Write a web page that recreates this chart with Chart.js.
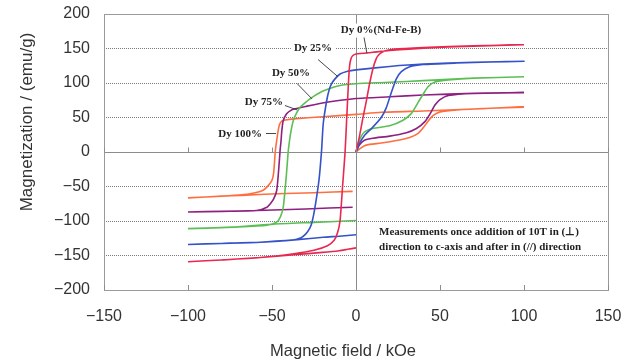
<!DOCTYPE html>
<html><head><meta charset="utf-8">
<script src="https://cdn.jsdelivr.net/npm/chart.js@4/dist/chart.umd.min.js"></script>
<style>html,body{margin:0;padding:0;background:#fff}#wrap{width:633px;height:360px;position:relative}</style>
</head><body><div id="wrap"><canvas id="c"></canvas></div>
<script>
// ---- data (H in kOe, M in emu/g) ----
const seriesNames = ['Dy 0%(Nd-Fe-B)', 'Dy 25%', 'Dy 50%', 'Dy 75%', 'Dy 100%'];
const dy0 = [[0,0],[2,22],[4,48],[6,72],[8,98],[10,120],[12,135],[14,142],[17,146.5],[22,149],[40,151.5],[70,154],[100,155.5],
  [70,153.5],[40,150.5],[20,147],[10,144.5],[0,142],[-2,139.5],[-3,135],[-3.8,125],[-4.5,100],[-5.5,50],[-6.5,0],[-8,-50],[-9.5,-100],[-11,-117],[-13,-128],[-17,-136],[-25,-142.5],[-37,-147.5],[-57,-153],[-80,-156.5],[-100,-159],
  [-80,-156.5],[-57,-153],[-37,-149],[-20,-145.5],[-10,-143],[-5,-141],[0,-139]];
const dy25 = [[0,0],[2,12],[5,24],[10,36],[15,50],[18,64],[21,86],[24,106],[27,116.5],[32,123.5],[40,126.8],[60,129],[80,130.5],[100,131.5],
  [70,130],[40,127.5],[20,124],[0,119],[-5,117],[-9.5,113],[-12.5,106],[-14.5,99],[-16,90],[-17.4,75],[-19.5,41],[-20.5,2],[-22,-40],[-24.4,-80],[-26,-100],[-27.4,-110],[-30,-119],[-33,-124.5],[-39,-128],[-57,-130.7],[-80,-132.5],[-100,-134],
  [-80,-132.5],[-57,-130.7],[-35,-127],[-19.5,-123.5],[-10,-122],[0,-120]];
const dy50 = [[0,0],[2,17],[5,29],[10,34],[20,38],[28,46],[33,56],[37,72],[40,84],[43,95],[47,101.5],[55,104.5],[70,107],[100,109],
  [70,107],[40,103.5],[20,101],[0,99],[-8,97],[-13.5,94],[-20,88],[-25,81],[-27.4,77],[-30,72],[-33.3,65],[-35.5,56],[-37.3,45.7],[-38.5,33],[-39.3,21],[-40.3,2],[-41.5,-35],[-43.3,-80],[-45,-94],[-47.2,-101.7],[-53,-106],[-70,-108.5],[-100,-111],
  [-70,-108.5],[-49,-104.5],[-25,-102],[0,-99.3]];
const dy75 = [[0,0],[2,10],[5,17],[10,20],[20,23],[30,28],[36,34],[41,44],[44,55],[47,68],[50,76],[55,82],[70,85],[100,86],
  [70,85],[40,82.5],[20,80],[0,77.5],[-17.5,72],[-30,66],[-36.3,62.6],[-39,60],[-41.3,55.4],[-43.3,45.7],[-44.2,30],[-44.6,16.7],[-45.2,2],[-46,-25],[-47.2,-55.8],[-49,-68],[-51,-75],[-53,-80],[-59,-84.8],[-80,-86],[-100,-87],
  [-80,-86],[-59,-84.8],[-30,-82.5],[-2,-80]];
const dy100 = [[0,0],[3,6],[6,10],[15,13],[25,17],[32,21],[37,27],[40,35],[43,45],[46,53],[50,58],[60,61],[80,63.5],[100,65],
  [80,63.5],[70,62.3],[40,59.5],[15,57.5],[0,54.5],[-20,51],[-37,48],[-42,46.5],[-44,45],[-45.5,40],[-46.4,30],[-47.2,16.7],[-48,2],[-49,-30],[-50,-41],[-52,-48],[-55,-55],[-60,-59],[-68,-62],[-80,-64],[-100,-66.5],
  [-80,-64],[-68,-62.8],[-47,-60.6],[-25,-59],[-2,-57]];
const xTicks = [-150, -100, -50, 0, 50, 100, 150];
const yTicks = [-200, -150, -100, -50, 0, 50, 100, 150, 200];
const xTitle = 'Magnetic field / kOe';
const yTitle = 'Magnetization / (emu/g)';
const noteLines = ['Measurements once addition of 10T in (\u22A5)', 'direction to c-axis and after in (//) direction'];

// ---- styling / layout (not data) ----
const colors = ['#e8284f', '#3552c8', '#5cbf55', '#8e2080', '#ff6e40'];
const allSeries = [dy0, dy25, dy50, dy75, dy100];
// label anchors in data units: text centre, leader start, leader end
const labelPlaces = [
  {tx: 14.9, ty: 176, l1: [4.8, 166], l2: [6.5, 143]},
  {tx: -25.6, ty: 150, l1: [-22.6, 134], l2: [-10.7, 109]},
  {tx: -38.7, ty: 113.8, l1: [-35.1, 99.3], l2: [-26.2, 77]},
  {tx: -54.8, ty: 71.7, l1: [-42.3, 67.4], l2: [-35.1, 61]},
  {tx: -69, ty: 25.4, l1: [-53.6, 26.8], l2: [-47.6, 26.8]}
];
const fmt = v => (v < 0 ? '\u2212' + Math.abs(v) : String(v));

const decor = {
  id: 'decor',
  afterDraw(chart) {
    const ctx = chart.ctx, a = chart.chartArea;
    const xs = chart.scales.x, ys = chart.scales.y;
    ctx.save();
    // frame
    ctx.strokeStyle = '#9a9a9a'; ctx.lineWidth = 1;
    ctx.strokeRect(Math.round(a.left) + 0.5, Math.round(a.top) + 0.5, Math.round(a.right - a.left), Math.round(a.bottom - a.top));
    // inward tick marks on bottom axis and zero line
    ctx.strokeStyle = '#8c8c8c';
    const y0 = Math.round(ys.getPixelForValue(0)) + 0.5;
    xTicks.forEach(v => {
      const px = Math.round(xs.getPixelForValue(v)) + 0.5;
      ctx.beginPath();
      ctx.moveTo(px, a.bottom); ctx.lineTo(px, a.bottom - 5);
      ctx.moveTo(px, y0); ctx.lineTo(px, y0 - 5);
      ctx.stroke();
    });
    // axis titles
    ctx.fillStyle = '#333';
    ctx.textAlign = 'center'; ctx.textBaseline = 'middle';
    ctx.font = '16.5px "Liberation Sans", Arial, sans-serif';
    ctx.fillText(xTitle, 343, 351);
    ctx.save();
    ctx.font = '17px "Liberation Sans", Arial, sans-serif';
    ctx.translate(27, 122); ctx.rotate(-Math.PI / 2);
    ctx.fillText(yTitle, 0, 0);
    ctx.restore();
    // series labels with leader lines
    ctx.font = 'bold 11px "Liberation Serif", "Times New Roman", serif';
    labelPlaces.forEach((p, i) => {
      const tx = xs.getPixelForValue(p.tx), ty = ys.getPixelForValue(p.ty);
      const w = ctx.measureText(seriesNames[i]).width;
      ctx.fillStyle = '#fff';
      ctx.fillRect(tx - w / 2 - 3, ty - 7, w + 6, 14);
      ctx.fillStyle = '#222';
      ctx.fillText(seriesNames[i], tx, ty);
      ctx.strokeStyle = '#333'; ctx.lineWidth = 0.9;
      ctx.beginPath();
      ctx.moveTo(xs.getPixelForValue(p.l1[0]), ys.getPixelForValue(p.l1[1]));
      ctx.lineTo(xs.getPixelForValue(p.l2[0]), ys.getPixelForValue(p.l2[1]));
      ctx.stroke();
    });
    // note
    ctx.font = 'bold 11px "Liberation Serif", "Times New Roman", serif';
    ctx.textAlign = 'left'; ctx.fillStyle = '#222';
    ctx.fillText(noteLines[0], xs.getPixelForValue(13.7), ys.getPixelForValue(-116.7));
    ctx.fillText(noteLines[1], xs.getPixelForValue(13.7), ys.getPixelForValue(-138.4));
    ctx.restore();
  }
};

new Chart(document.getElementById('c'), {
  type: 'scatter',
  data: {
    datasets: allSeries.map((s, i) => ({
      label: seriesNames[i],
      data: s.map(p => ({x: p[0], y: p[1]})),
      showLine: true,
      borderColor: colors[i],
      backgroundColor: colors[i],
      borderWidth: 1.6,
      pointRadius: 0,
      tension: 0.2,
      fill: false
    }))
  },
  options: {
    responsive: true, maintainAspectRatio: false, animation: false, devicePixelRatio: 1,
    layout: {padding: {top: 14, right: 25, left: 0, bottom: 0}},
    plugins: {legend: {display: false}, tooltip: {enabled: false}},
    scales: {
      x: {
        type: 'linear', min: -150, max: 150,
        afterBuildTicks: s => { s.ticks = xTicks.map(v => ({value: v})); },
        afterFit: s => { s.height = 70; s.paddingLeft = 0; s.paddingRight = 0; },
        grid: {drawTicks: false, color: c => (c.tick && c.tick.value === 0 ? '#8c8c8c' : 'rgba(0,0,0,0)'), lineWidth: 1},
        border: {display: false},
        ticks: {padding: 17, color: '#333', font: {size: 16, family: '"Liberation Sans", Arial, sans-serif'}, callback: v => fmt(v), maxRotation: 0}
      },
      y: {
        type: 'linear', min: -200, max: 200,
        afterBuildTicks: s => { s.ticks = yTicks.map(v => ({value: v})); },
        afterFit: s => { s.width = 104; s.paddingTop = 0; s.paddingBottom = 0; },
        grid: {drawTicks: false, color: c => {
          const v = c.tick ? c.tick.value : null;
          if (v === 0) return '#8c8c8c';
          if (Math.abs(v) === 200) return 'rgba(0,0,0,0)';
          return '#7a7a7a';
        }, lineWidth: 1},
        border: {display: false, dash: c => (c.tick && c.tick.value === 0 ? [] : [1, 1])},
        ticks: {padding: 14, color: '#333', font: {size: 16, family: '"Liberation Sans", Arial, sans-serif'}, callback: v => fmt(v)}
      }
    }
  },
  plugins: [decor]
});
</script>
</body></html>
